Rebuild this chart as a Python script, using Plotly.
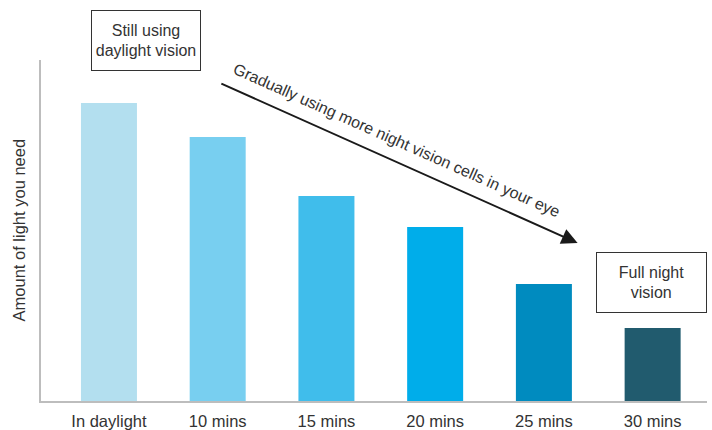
import plotly.graph_objects as go

categories = ["In daylight", "10 mins", "15 mins", "20 mins", "25 mins", "30 mins"]
values = [298, 264, 205, 174, 117, 73]
colors = ["#b3dfef", "#78cff0", "#40bdeb", "#00adea", "#008bbf", "#215b6e"]

FONT = "Liberation Sans"
TXT = "#333333"

fig = go.Figure(go.Bar(
    x=list(range(len(categories))), y=values, marker_color=colors,
    marker_line_width=0, width=0.515, hoverinfo="skip"))

fig.update_layout(
    width=712, height=430,
    margin=dict(l=41, r=5, t=60, b=29, autoexpand=False),
    paper_bgcolor="white", plot_bgcolor="white",
    showlegend=False,
    font=dict(family=FONT, size=14, color=TXT),
    xaxis=dict(range=[-0.625, 5.5], tickvals=list(range(len(categories))),
               ticktext=categories, showgrid=False, zeroline=False,
               showline=True, linecolor="#bdbdbd", linewidth=2,
               ticks="", ticklabelstandoff=4, automargin=False,
               tickfont=dict(size=16.5, color=TXT), fixedrange=True),
    yaxis=dict(range=[0, 341], showticklabels=False, showgrid=False,
               zeroline=False, showline=True, linecolor="#bdbdbd", linewidth=2,
               ticks="", automargin=False, fixedrange=True),
)

# y title
fig.add_annotation(text="Amount of light you need", xref="paper", yref="paper",
                   x=-0.0316, y=0.503, xanchor="center", yanchor="middle",
                   textangle=-90, showarrow=False,
                   font=dict(size=16.5, color=TXT))

# boxes
fig.add_annotation(text="Still using<br>daylight vision", xref="paper", yref="paper",
                   x=0.158, y=1.057, xanchor="center", yanchor="middle",
                   showarrow=False, width=106, height=57,
                   bordercolor="#333333", borderwidth=1, borderpad=1, bgcolor="white",
                   font=dict(size=16, color=TXT))
fig.add_annotation(text="Full night<br>vision", xref="paper", yref="paper",
                   x=0.9165, y=0.3475, xanchor="center", yanchor="middle",
                   showarrow=False, width=107, height=57,
                   bordercolor="#333333", borderwidth=1, borderpad=1, bgcolor="white",
                   font=dict(size=16, color=TXT))

# arrow
fig.add_annotation(x=4.31, y=158, ax=1.02, ay=318, xref="x", yref="y",
                   axref="x", ayref="y", text="", showarrow=True,
                   arrowhead=2, arrowsize=1.6, arrowwidth=2, arrowcolor="#1a1a1a")
fig.add_annotation(text="Gradually using more night vision cells in your eye",
                   xref="paper", yref="paper", x=0.535, y=0.765,
                   xanchor="center", yanchor="middle", textangle=24,
                   showarrow=False, font=dict(size=16, color=TXT))

fig.write_html("out.html")
